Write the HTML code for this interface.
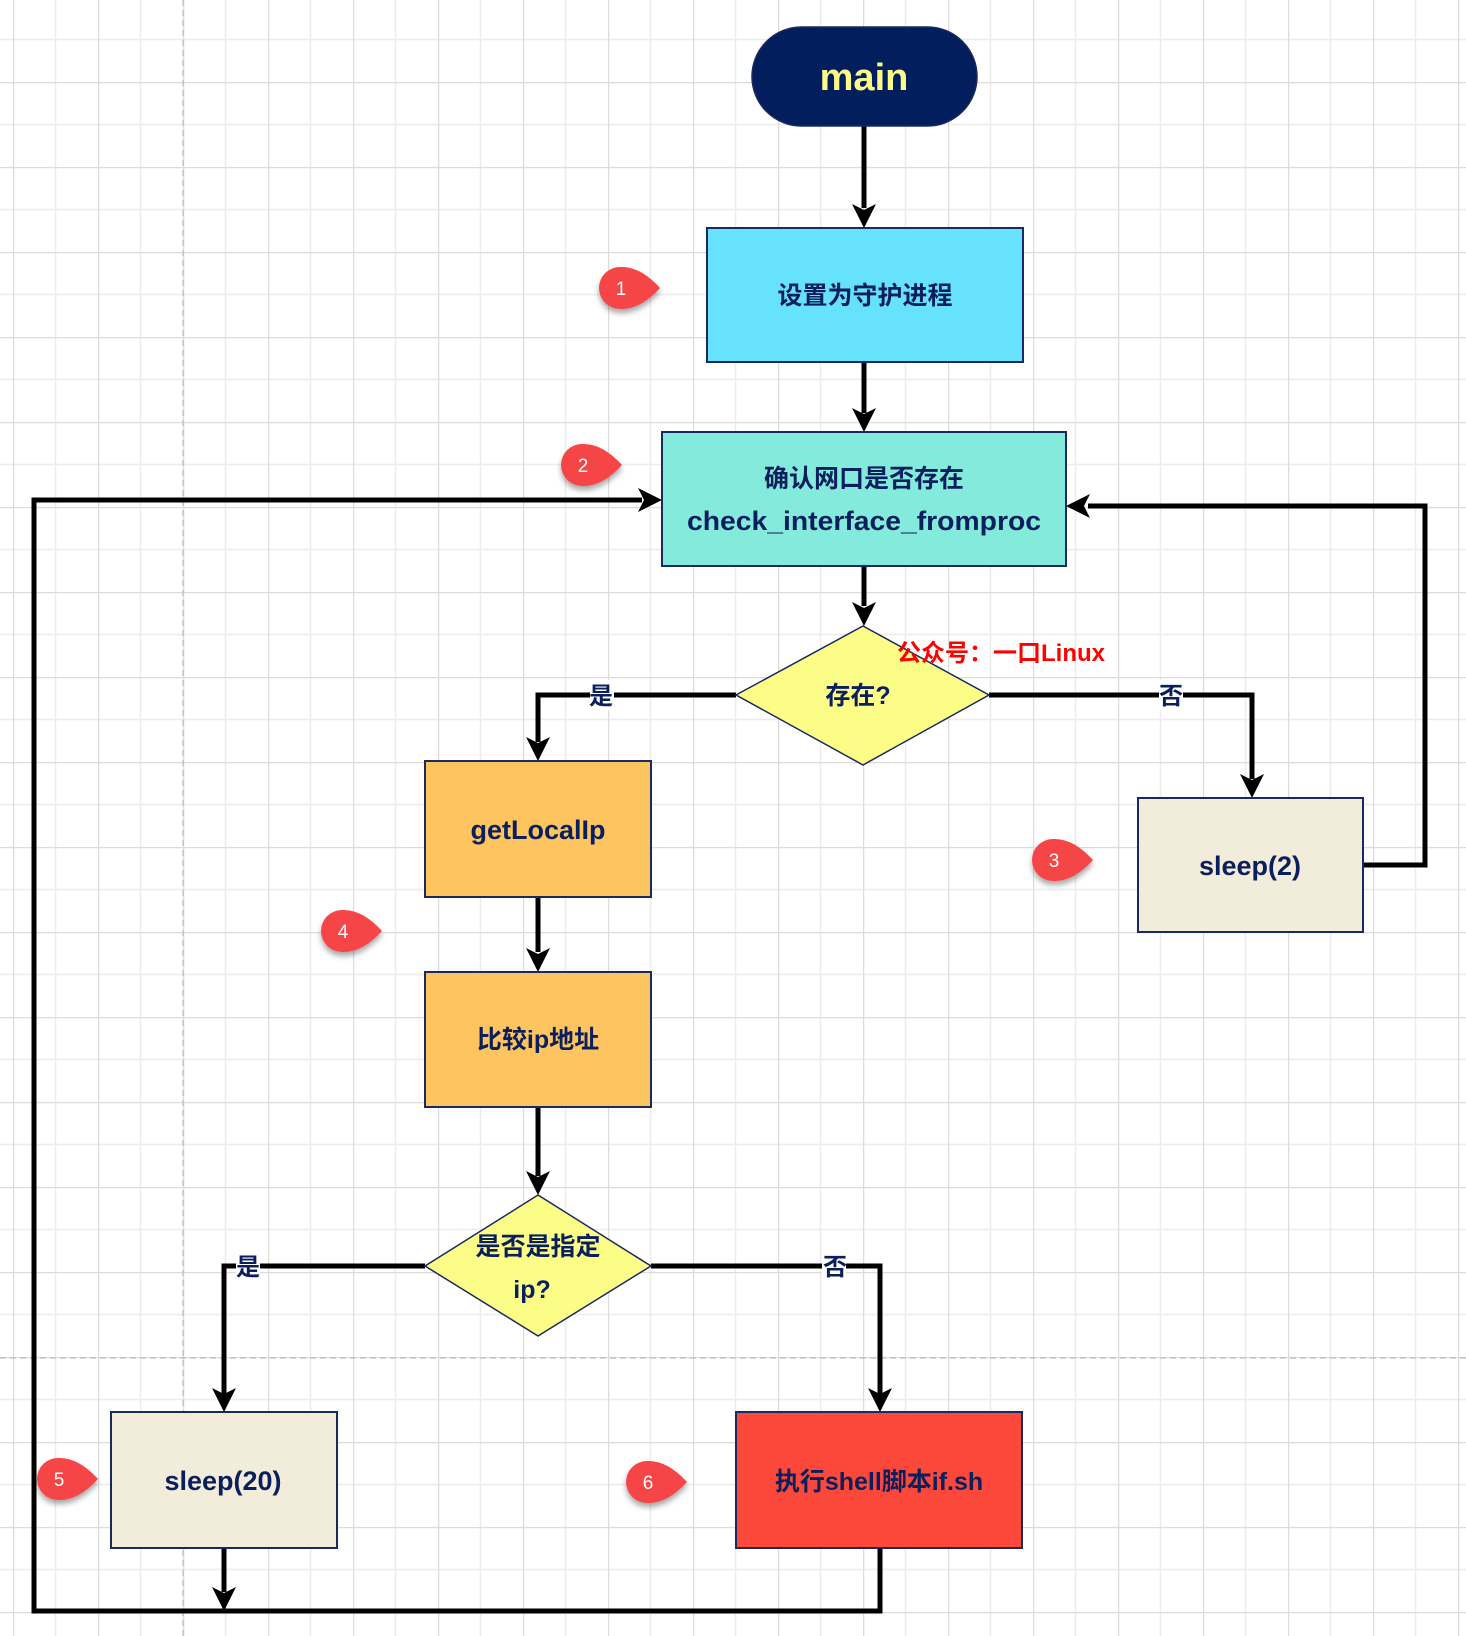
<!DOCTYPE html>
<html><head><meta charset="utf-8"><style>
html,body{margin:0;padding:0;background:#fff;}
svg{display:block;}
text{font-family:"Liberation Sans","Noto Sans CJK SC",sans-serif;font-weight:bold;}
</style></head><body>
<svg width="1466" height="1636" viewBox="0 0 1466 1636" xmlns="http://www.w3.org/2000/svg">
<defs>
<pattern id="g" x="13" y="-3" width="85" height="85" patternUnits="userSpaceOnUse">
<path d="M42.5 0V85M0 42.5H85" stroke="#ececec" stroke-width="1.5"/>
<path d="M0.5 0V85M0 0.5H85" stroke="#dcdcdc" stroke-width="1.5"/>
</pattern>
<filter id="sh" x="-30%" y="-30%" width="160%" height="170%"><feDropShadow dx="0" dy="4" stdDeviation="3" flood-color="#000" flood-opacity="0.35"/></filter>
</defs>
<rect width="1466" height="1636" fill="url(#g)"/>
<line x1="183" y1="0" x2="183" y2="1636" stroke="#bbb" stroke-width="1.2" stroke-dasharray="6 4"/>
<line x1="0" y1="1358" x2="1466" y2="1358" stroke="#bbb" stroke-width="1.2" stroke-dasharray="6 4"/>

<g stroke="#000" stroke-width="5" fill="none">
<path d="M864 124V208"/>
<path d="M864 362V413"/>
<path d="M864 566V606"/>
<path d="M736 695H538V742"/>
<path d="M989 695H1252V779"/>
<path d="M1363 865H1425V506H1088"/>
<path d="M538 897V952"/>
<path d="M538 1107V1176"/>
<path d="M425 1266H224V1394"/>
<path d="M651 1266H880V1394"/>
<path d="M224 1548V1592"/>
<path d="M880 1548V1611H34V500H642"/>
</g>
<g fill="#000">
<path d="M864 228l-12-24 12 6 12-6z"/>
<path d="M864 432l-12-24 12 6 12-6z"/>
<path d="M864 626l-12-24 12 6 12-6z"/>
<path d="M538 761l-12-24 12 6 12-6z"/>
<path d="M1252 798l-12-24 12 6 12-6z"/>
<path d="M538 972l-12-24 12 6 12-6z"/>
<path d="M538 1195l-12-24 12 6 12-6z"/>
<path d="M224 1412l-12-24 12 6 12-6z"/>
<path d="M880 1412l-12-24 12 6 12-6z"/>
<path d="M224 1611l-12-24 12 6 12-6z"/>
<path d="M662 500l-24-12 6 12-6 12z"/>
<path d="M1066 506l24-12-6 12 6 12z"/>
</g>

<rect x="752" y="27" width="225" height="99" rx="49.5" fill="#031e5c" stroke="#1a2a60" stroke-width="1.5"/>
<text x="864" y="90" font-size="38" fill="#fbf98a" text-anchor="middle">main</text>

<rect x="707" y="228" width="316" height="134" fill="#66e2fd" stroke="#1a2a60" stroke-width="2"/>
<text x="865" y="304" font-size="25" fill="#0b1f5c" text-anchor="middle">设置为守护进程</text>

<rect x="662" y="432" width="404" height="134" fill="#84eadb" stroke="#1a2a60" stroke-width="2"/>
<text x="864" y="487" font-size="25" fill="#0b1f5c" text-anchor="middle">确认网口是否存在</text>
<text x="864" y="530" font-size="27" fill="#0b1f5c" text-anchor="middle" textLength="354" lengthAdjust="spacingAndGlyphs">check_interface_fromproc</text>

<path d="M863 626L989 695L863 765L736 695Z" fill="#fcfd86" stroke="#1a2a60" stroke-width="1.5"/>
<text x="858" y="704" font-size="25" fill="#0b1f5c" text-anchor="middle">存在?</text>
<text x="897" y="661" font-size="24" fill="#f00">公众号：一口Linux</text>

<rect x="590" y="680" width="24" height="30" fill="#fff"/>
<text x="601" y="704" font-size="24" fill="#0b1f5c" text-anchor="middle">是</text>
<rect x="1159" y="680" width="24" height="30" fill="#fff"/>
<text x="1171" y="704" font-size="24" fill="#0b1f5c" text-anchor="middle">否</text>

<rect x="425" y="761" width="226" height="136" fill="#fdc45f" stroke="#1a2a60" stroke-width="2"/>
<text x="538" y="839" font-size="27" fill="#0b1f5c" text-anchor="middle">getLocalIp</text>

<rect x="1138" y="798" width="225" height="134" fill="#f2ecdb" stroke="#1a2a60" stroke-width="2"/>
<text x="1250" y="875" font-size="27" fill="#0b1f5c" text-anchor="middle">sleep(2)</text>

<rect x="425" y="972" width="226" height="135" fill="#fdc45f" stroke="#1a2a60" stroke-width="2"/>
<text x="538" y="1048" font-size="25" fill="#0b1f5c" text-anchor="middle">比较ip地址</text>

<path d="M538 1195L651 1266L538 1336L425 1266Z" fill="#fcfd86" stroke="#1a2a60" stroke-width="1.5"/>
<text x="538" y="1255" font-size="25" fill="#0b1f5c" text-anchor="middle">是否是指定</text>
<text x="532" y="1298" font-size="25" fill="#0b1f5c" text-anchor="middle">ip?</text>

<rect x="236" y="1251" width="24" height="30" fill="#fff"/>
<text x="248" y="1275" font-size="24" fill="#0b1f5c" text-anchor="middle">是</text>
<rect x="822" y="1251" width="24" height="30" fill="#fff"/>
<text x="835" y="1275" font-size="24" fill="#0b1f5c" text-anchor="middle">否</text>

<rect x="111" y="1412" width="226" height="136" fill="#f2ecdb" stroke="#1a2a60" stroke-width="2"/>
<text x="223" y="1490" font-size="27" fill="#0b1f5c" text-anchor="middle">sleep(20)</text>

<rect x="736" y="1412" width="286" height="136" fill="#fc483b" stroke="#1a2a60" stroke-width="2"/>
<text x="879" y="1490" font-size="25" fill="#0b1f5c" text-anchor="middle">执行shell脚本if.sh</text>

<g fill="#f64547" filter="url(#sh)">
<path d="M660 288Q640 266 620 267A21 21 0 1 0 620 309Q640 310 660 288Z"/>
<path d="M622 465Q602 443 582 444A21 21 0 1 0 582 486Q602 487 622 465Z"/>
<path d="M1093 860Q1073 838 1053 839A21 21 0 1 0 1053 881Q1073 882 1093 860Z"/>
<path d="M382 931Q362 909 342 910A21 21 0 1 0 342 952Q362 953 382 931Z"/>
<path d="M98 1479Q78 1457 58 1458A21 21 0 1 0 58 1500Q78 1501 98 1479Z"/>
<path d="M687 1482Q667 1460 647 1461A21 21 0 1 0 647 1503Q667 1504 687 1482Z"/>
</g>
<g fill="#fff" font-size="19" text-anchor="middle">
<text x="621" y="295" style="font-weight:normal">1</text>
<text x="583" y="472" style="font-weight:normal">2</text>
<text x="1054" y="867" style="font-weight:normal">3</text>
<text x="343" y="938" style="font-weight:normal">4</text>
<text x="59" y="1486" style="font-weight:normal">5</text>
<text x="648" y="1489" style="font-weight:normal">6</text>
</g>
</svg>
</body></html>
